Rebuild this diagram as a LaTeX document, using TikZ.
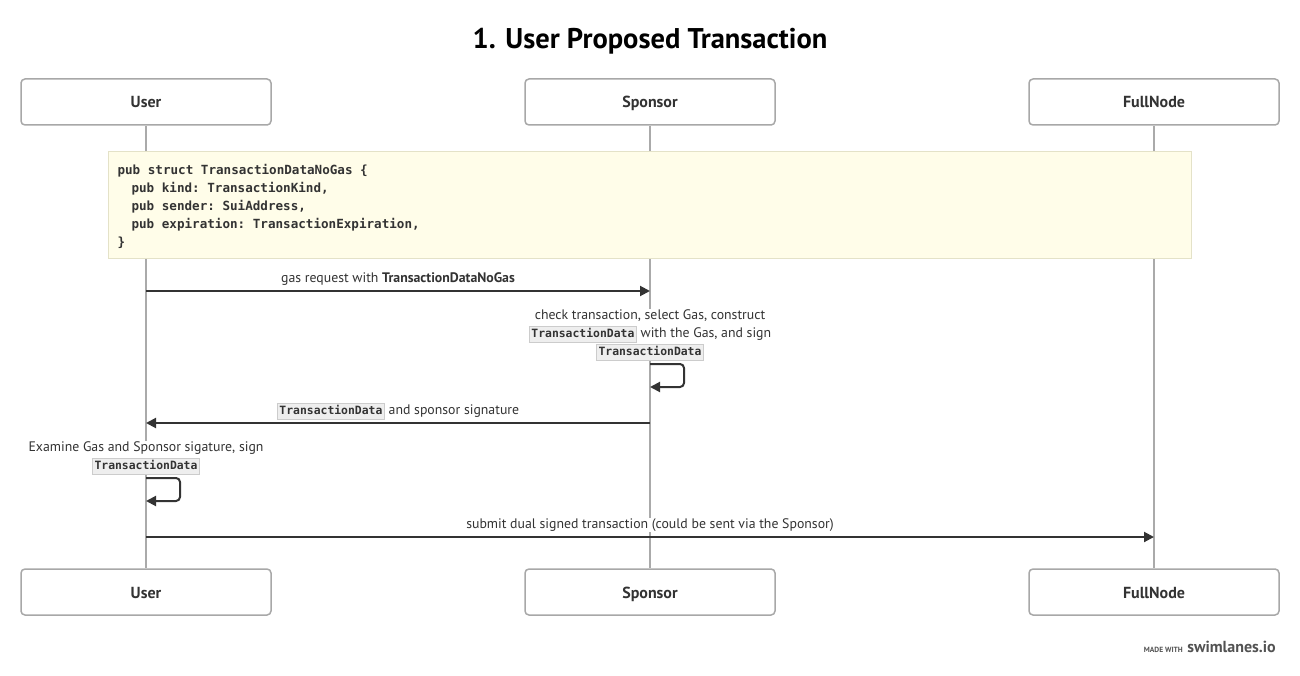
\documentclass[tikz,border=0pt]{standalone}
\usepackage{fontspec}
\setmainfont{PT Sans}[BoldFont={PT Sans Bold}]
\newfontfamily\codefont{DejaVu Sans Mono}[BoldFont={DejaVu Sans Mono Bold}]
\usetikzlibrary{arrows.meta}
\definecolor{lanegray}{HTML}{AAAAAA}
\definecolor{boxgray}{HTML}{A8A8A8}
\definecolor{ink}{HTML}{333333}
\definecolor{notefill}{HTML}{FFFDE9}
\definecolor{noteline}{HTML}{E4E2C8}
\definecolor{tagfill}{HTML}{EEEEEE}
\definecolor{tagline}{HTML}{CCCCCC}
\newcommand\cs{\hspace*{0.602em}}
\newcommand\codetag[1]{{\setlength{\fboxsep}{2pt}\setlength{\fboxrule}{0.6pt}\fcolorbox{tagline}{tagfill}{\codefont\bfseries\fontsize{11.4}{11}\selectfont\vphantom{Tp}#1}}}
\tikzset{
  actor/.style={draw=boxgray, line width=1.5pt, rounded corners=4pt, fill=white,
    minimum width=250pt, minimum height=46pt, inner sep=0pt,
    text height=12pt, text depth=0pt,
    font=\bfseries\fontsize{16}{18}\selectfont, text=ink},
  lifeline/.style={draw=lanegray, line width=2pt},
  msg/.style={draw=ink, line width=2pt, -{Triangle[length=10pt,width=10pt]}},
  selfmsg/.style={msg, rounded corners=4pt},
  lbl/.style={fill=white, inner xsep=2pt, inner ysep=1pt, align=center, text=ink,
    font=\fontsize{13.8}{18}\selectfont},
  notebox/.style={draw=noteline, line width=1pt, fill=notefill, anchor=north west,
    minimum width=1083pt, minimum height=107pt, text width=1065pt, inner xsep=9pt,
    align=left, text=ink, font=\codefont\bfseries\fontsize{12.6}{18}\selectfont},
}
\begin{document}
\begin{tikzpicture}[x=1pt,y=-1pt]
\useasboundingbox (0,0) rectangle (1300,676);
% title
\node[font=\bfseries\fontsize{28.5}{32}\selectfont, text=black] (title) at (650,41) {1. User Proposed Transaction};
% actors
\node[actor] (ut) at (146,102) {User};
\node[actor] (st) at (650,102) {Sponsor};
\node[actor] (ft) at (1154,102) {FullNode};
\node[actor] (ub) at (146,592) {User};
\node[actor] (sb) at (650,592) {Sponsor};
\node[actor] (fb) at (1154,592) {FullNode};
% lifelines
\draw[lifeline] (ut.south) -- (ub.north);
\draw[lifeline] (st.south) -- (sb.north);
\draw[lifeline] (ft.south) -- (fb.north);
% note
\node[notebox] (note) at (108,151) {\rule{0pt}{14pt}pub\cs struct\cs TransactionDataNoGas\cs\{\\
\hspace*{14pt}pub\cs kind:\cs TransactionKind,\\
\hspace*{14pt}pub\cs sender:\cs SuiAddress,\\
\hspace*{14pt}pub\cs expiration:\cs TransactionExpiration,\\
\}\vphantom{Tp}};
% message coordinates
\coordinate (u1) at (146,291); \coordinate (s1) at (650,291);
\coordinate (s2a) at (650,364); \coordinate (s2b) at (650,387);
\coordinate (s3) at (650,423); \coordinate (u3) at (146,423);
\coordinate (u4a) at (146,478); \coordinate (u4b) at (146,501);
\coordinate (u5) at (146,537); \coordinate (f5) at (1154,537);
% messages
\draw[msg] (u1) -- (s1);
\node[lbl] (l1) at (398,279) {gas request with \textbf{TransactionDataNoGas}};
\node[lbl] (l2) at (650,335) {check transaction, select Gas, construct\\\codetag{TransactionData} with the Gas, and sign\\\codetag{TransactionData}};
\draw[selfmsg] (s2a) -- ++(34,0) |- (s2b);
\draw[msg] (s3) -- (u3);
\node[lbl] (l3) at (398,411) {\codetag{TransactionData} and sponsor signature};
\node[lbl] (l4) at (146,458) {Examine Gas and Sponsor sigature, sign\\\codetag{TransactionData}};
\draw[selfmsg] (u4a) -- ++(34,0) |- (u4b);
\draw[msg] (u5) -- (f5);
\node[lbl] (l5) at (650,525) {submit dual signed transaction (could be sent via the Sponsor)};
% footer
\node[anchor=base east, inner sep=0pt, text=ink!85, font=\bfseries\fontsize{16}{18}\selectfont] (brand) at (1276,652) {swimlanes.io};
\node[anchor=base east, inner sep=0pt, text=ink!85, font=\bfseries\fontsize{7.5}{8}\selectfont] (made) at ([xshift=-4pt]brand.base west) {MADE WITH};
\end{tikzpicture}
\end{document}
